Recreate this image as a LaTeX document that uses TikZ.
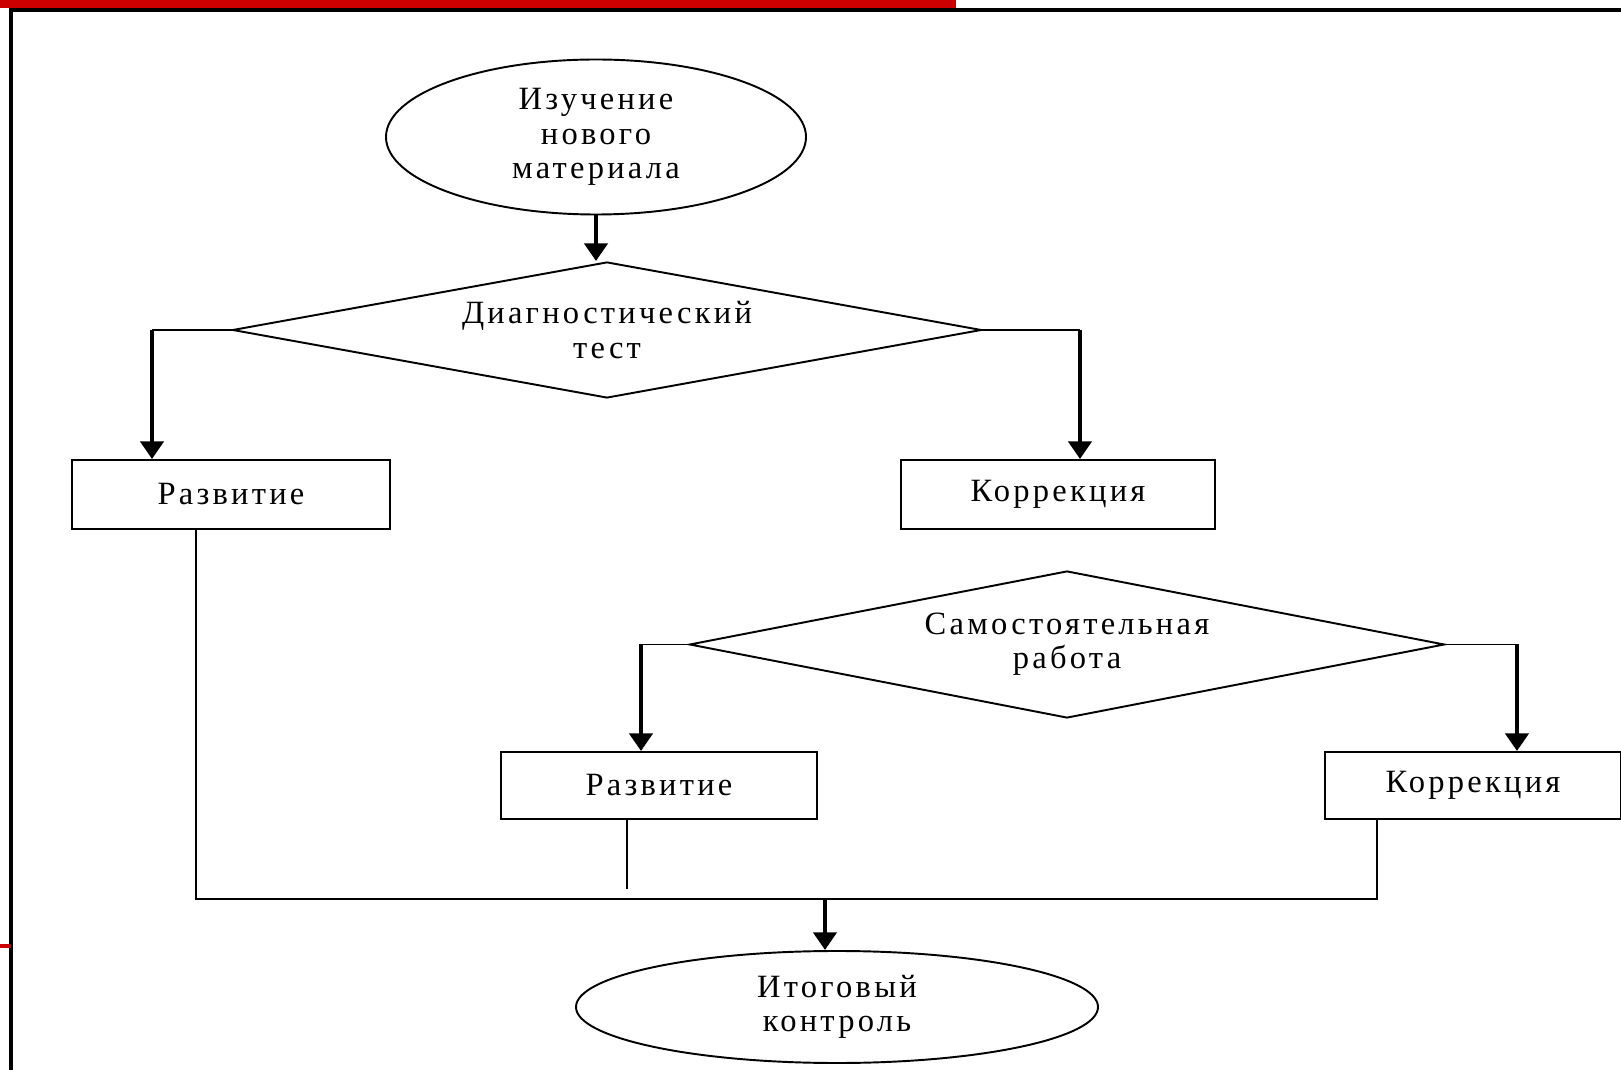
\documentclass[tikz,border=0pt]{standalone}
\usepackage{fontspec}
\setmainfont{Liberation Serif}[LetterSpace=10]
\usepackage{tikz}
\usetikzlibrary{arrows.meta,shapes.geometric}

\definecolor{slidered}{RGB}{204,0,0}
\newcommand{\blockfont}{\fontsize{18.5}{19.5}\selectfont}

\begin{document}
\begin{tikzpicture}[scale=0.2]
	\tikzstyle{every node}+=[inner sep=0pt, font=\blockfont, align=center, line width=1.1pt]
	\tikzstyle{oval}=[draw, ellipse]
	\tikzstyle{test}=[draw, diamond, aspect=5.5]
	\tikzstyle{blok}=[draw, rectangle]
	\tikzstyle{feed}=[line width=2.6pt, -{Triangle[width=13pt,length=10pt]}]
	\tikzstyle{wire}=[line width=1.1pt]
	\useasboundingbox (0,0) rectangle (162.1,-107);
	% slide frame
	\fill [slidered] (0,0) rectangle (95.6,-0.8);
	\draw [line width=1.8pt] (1.1,-107) -- (1.1,-1.0) -- (162.1,-1.0);
	\draw [slidered, line width=1.8pt] (0,-94.6) -- (1.1,-94.6);
	% blocks
	\node [oval, minimum width=8.4cm, minimum height=3.1cm] (izuch) at (59.6,-13.7) {Изучение\\нового\\материала};
	\node [test, minimum width=14.98cm, minimum height=2.72cm] (diag) at (60.7,-33.0) {Диагностический\\тест};
	\node [blok, minimum width=6.36cm, minimum height=1.38cm] (razv1) at (23.1,-49.45) {Развитие};
	\node [blok, minimum width=6.28cm, minimum height=1.38cm] (korr1) at (105.8,-49.45) {Коррекция};
	\node [test, aspect=5.1, minimum width=15.1cm, minimum height=2.94cm] (samost) at (106.7,-64.45) {Самостоятельная\\работа};
	\node [blok, minimum width=6.32cm, minimum height=1.34cm] (razv2) at (65.9,-78.55) {Развитие};
	\node [blok, minimum width=5.92cm, minimum height=1.34cm] (korr2) at (147.3,-78.55) {Коррекция};
	\node [oval, minimum width=10.44cm, minimum height=2.24cm] (itog) at (83.7,-100.7) {Итоговый\\контроль};
	% corners and bus
	\coordinate (c1) at (15.2,-33.0);
	\coordinate (c2) at (108.0,-33.0);
	\coordinate (c3) at (64.1,-64.45);
	\coordinate (c4) at (151.7,-64.45);
	\coordinate (bl) at (19.6,-89.9);
	\coordinate (br) at (137.7,-89.9);
	\coordinate (b2) at (62.7,-88.9);
	\coordinate (bm) at (82.5,-89.9);
	% connectors
	\draw [feed] (izuch.south) -- (izuch.south |- diag.north);
	\draw [wire] (diag.west) -- (c1);
	\draw [feed] (c1) -- (c1 |- razv1.north);
	\draw [wire] (diag.east) -- (c2);
	\draw [feed] (c2) -- (c2 |- korr1.north);
	\draw [wire] (samost.west) -- (c3);
	\draw [feed] (c3) -- (c3 |- razv2.north);
	\draw [wire] (samost.east) -- (c4);
	\draw [feed] (c4) -- (c4 |- korr2.north);
	\draw [wire] (bl |- razv1.south) -- (bl) -- (br) -- (br |- korr2.south);
	\draw [wire] (b2 |- razv2.south) -- (b2);
	\draw [feed] (bm) -- (bm |- itog.north);
\end{tikzpicture}
\end{document}
